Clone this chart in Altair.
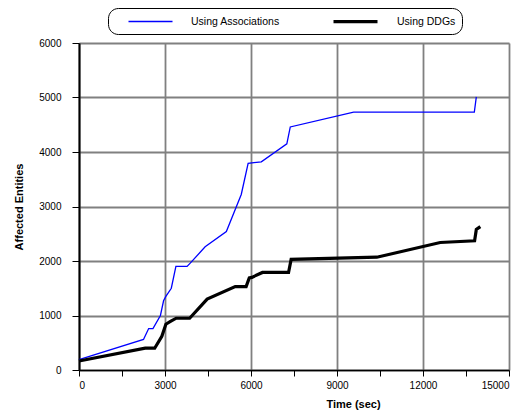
import altair as alt
import pandas as pd

# Series data
assoc_t = [0, 2250, 2430, 2580, 2840, 2950, 3030, 3220, 3380, 3770, 3880, 4400, 5140,
           5660, 5900, 6360, 7250, 7370, 9580, 13790, 13860]
assoc_v = [190, 560, 760, 760, 1000, 1270, 1350, 1500, 1900, 1900, 1960, 2260, 2540,
           3220, 3790, 3820, 4150, 4460, 4730, 4730, 5010]

ddg_t = [0, 2310, 2640, 2890, 3030, 3190, 3390, 3860, 4470, 5450, 5830, 5940, 6030,
         6400, 7310, 7400, 10390, 12600, 13800, 13860, 14000]
ddg_v = [165, 400, 400, 620, 840, 890, 950, 950, 1300, 1530, 1530, 1690, 1700,
         1790, 1790, 2030, 2070, 2340, 2370, 2580, 2630]

series_names = ["Using Associations", "Using DDGs"]
series_colors = ["#0000ff", "#000000"]
series_widths = [1.3, 3.2]

x_ticks = list(range(0, 15001, 1500))
y_ticks = list(range(0, 6001, 1000))

rows = []
for i, (t, v) in enumerate(zip(assoc_t, assoc_v)):
    rows.append({"t": t, "v": v, "series": series_names[0], "i": i})
for i, (t, v) in enumerate(zip(ddg_t, ddg_v)):
    rows.append({"t": t, "v": v, "series": series_names[1], "i": i})
df = pd.DataFrame(rows)

FONT = "Liberation Sans"

legend = alt.Legend(
    orient="none", legendX=29, legendY=-35, direction="horizontal", title=None,
    symbolType="M-4,0H4", symbolSize=121, symbolOffset=30, labelOffset=34,
    columnPadding=38, padding=6, strokeColor="black", cornerRadius=10,
    fillColor="white", labelFont=FONT, labelFontSize=10.5, labelColor="black",
)

chart = alt.Chart(df).mark_line(strokeJoin="miter").encode(
    x=alt.X("t:Q", scale=alt.Scale(domain=[0, 15000], nice=False),
            axis=alt.Axis(values=x_ticks, format="d",
                          labelExpr="datum.value % 3000 === 0 ? datum.label : ''",
                          tickSize=6, tickColor="black", domainColor="black",
                          domainWidth=1.5, labelFont=FONT, labelFontSize=10,
                          labelColor="black", labelPadding=4,
                          title="Time (sec)", titleFont=FONT, titleFontSize=11,
                          titleFontWeight="bold", titleColor="black",
                          titleX=274, titleAlign="center", titlePadding=8,
                          gridColor="#808080", gridWidth=1.8,
                          gridOpacity={"condition": {"test": "datum.value % 3000 === 0", "value": 1}, "value": 0})),
    y=alt.Y("v:Q", scale=alt.Scale(domain=[0, 6000], nice=False),
            axis=alt.Axis(values=y_ticks, format="d", tickSize=7, tickColor="black",
                          domainColor="black", domainWidth=2, labelFont=FONT,
                          labelFontSize=10, labelColor="black", labelPadding=11,
                          title="Affected Entities", titleFont=FONT, titleFontSize=11,
                          titleFontWeight="bold", titleColor="black", titlePadding=14,
                          gridColor="#808080", gridWidth=1.8)),
    color=alt.Color("series:N", scale=alt.Scale(domain=series_names, range=series_colors),
                    legend=legend),
    strokeWidth=alt.StrokeWidth("series:N", scale=alt.Scale(domain=series_names, range=series_widths),
                                legend=legend),
    order="i:Q",
).properties(
    width=430, height=327,
    autosize=alt.AutoSizeParams(type="none"),
    padding={"left": 71, "top": 35, "right": 4, "bottom": 40},
).configure_view(stroke="black", strokeWidth=1).configure(background="white")

chart.save("out.html", embed_options={"renderer": "svg", "actions": False})
